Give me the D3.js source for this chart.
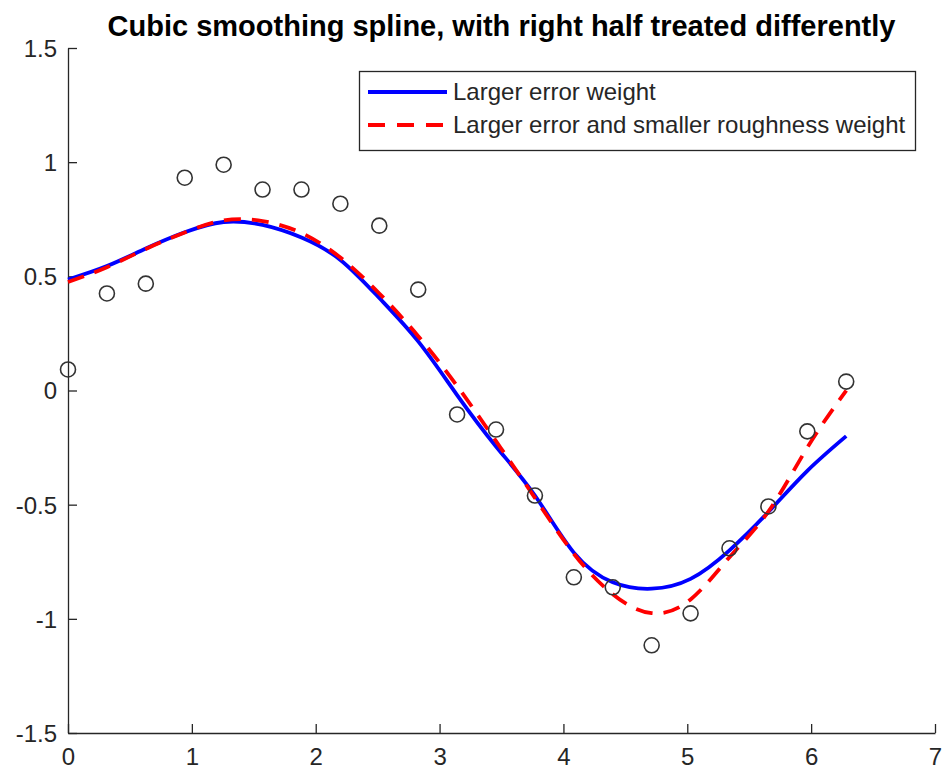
<!DOCTYPE html>
<html>
<head>
<meta charset="utf-8">
<script src="https://cdn.jsdelivr.net/npm/d3@7"></script>
<style>
  html, body { margin: 0; padding: 0; background: #fff; }
  svg { display: block; font-family: "Liberation Sans", Arial, Helvetica, sans-serif; }
</style>
</head>
<body>
<svg id="chart" width="945" height="777"></svg>
<script>
// Sample points: x = 0 .. 2*pi in 20 equal steps
const xData = d3.range(21).map(i => i * Math.PI / 10);
const yData = [0.092, 0.425, 0.468, 0.932, 0.989, 0.880, 0.880, 0.818, 0.722, 0.442,
               -0.105, -0.171, -0.460, -0.818, -0.862, -1.116, -0.976, -0.691, -0.508, -0.179, 0.039];

// Fitted spline values evaluated at the same x positions
const ySplineError = [0.486, 0.545, 0.622, 0.693, 0.738, 0.725, 0.670, 0.572, 0.405, 0.215,
                      -0.020, -0.245, -0.460, -0.710, -0.840, -0.868, -0.825, -0.700, -0.532, -0.352, -0.200];
const ySplineRough = [0.475, 0.540, 0.620, 0.692, 0.745, 0.742, 0.690, 0.582, 0.425, 0.238,
                      0.020, -0.222, -0.470, -0.715, -0.892, -0.975, -0.915, -0.730, -0.530, -0.250, 0.000];

const xTicks = [0, 1, 2, 3, 4, 5, 6, 7];
const yTicks = [-1.5, -1, -0.5, 0, 0.5, 1, 1.5];

const seriesLabels = ["Larger error weight", "Larger error and smaller roughness weight"];
const titleText = "Cubic smoothing spline, with right half treated differently";

const axisColor = "#262626";
const margin = { left: 68, right: 10, top: 48, bottom: 44 };
const W = 945, H = 777;

const svg = d3.select("#chart");
svg.append("rect").attr("width", W).attr("height", H).attr("fill", "#fff");

const x = d3.scaleLinear().domain([0, 7]).range([margin.left, W - margin.right]);
const y = d3.scaleLinear().domain([-1.5, 1.5]).range([H - margin.bottom, margin.top]);

// Axes (ticks point inward)
const xAxis = d3.axisBottom(x).tickValues(xTicks).tickFormat(d3.format("d"))
  .tickSizeInner(-9).tickSizeOuter(0);
const yAxis = d3.axisLeft(y).tickValues(yTicks).tickFormat(d => String(d))
  .tickSizeInner(-9).tickSizeOuter(0);

const gx = svg.append("g").attr("transform", `translate(0,${y(-1.5)})`).call(xAxis);
const gy = svg.append("g").attr("transform", `translate(${x(0)},0)`).call(yAxis);

[gx, gy].forEach(g => {
  g.select(".domain").attr("stroke", axisColor).attr("stroke-width", 1.3);
  g.selectAll(".tick line").attr("stroke", axisColor).attr("stroke-width", 1.3);
  g.selectAll(".tick text").attr("fill", axisColor).attr("font-size", 24)
    .attr("font-family", "Liberation Sans, Arial, sans-serif");
});
gx.selectAll(".tick text").attr("dy", null).attr("y", 32);
gy.selectAll(".tick text").attr("x", -11).attr("dy", "0.35em");

// Spline curves
const line = d3.line().x(d => x(d[0])).y(d => y(d[1])).curve(d3.curveNatural);

svg.append("path")
  .datum(xData.map((xv, i) => [xv, ySplineError[i]]))
  .attr("d", line)
  .attr("fill", "none")
  .attr("stroke", "#0000ff")
  .attr("stroke-width", 3.8);

svg.append("path")
  .datum(xData.map((xv, i) => [xv, ySplineRough[i]]))
  .attr("d", line)
  .attr("fill", "none")
  .attr("stroke", "#ff0000")
  .attr("stroke-width", 3.8)
  .attr("stroke-dasharray", "17,11");

// Data markers
svg.append("g").selectAll("circle")
  .data(xData.map((xv, i) => [xv, yData[i]]))
  .join("circle")
  .attr("cx", d => x(d[0]))
  .attr("cy", d => y(d[1]))
  .attr("r", 7.5)
  .attr("fill", "none")
  .attr("stroke", "#333")
  .attr("stroke-width", 1.6);

// Title
svg.append("text")
  .attr("x", (x(0) + x(7)) / 2)
  .attr("y", 36)
  .attr("text-anchor", "middle")
  .attr("font-size", 29)
  .attr("font-weight", "bold")
  .attr("fill", "#000")
  .text(titleText);

// Legend
const legend = svg.append("g");
legend.append("rect")
  .attr("x", 359.5).attr("y", 71.5).attr("width", 556).attr("height", 79)
  .attr("fill", "#fff").attr("stroke", axisColor).attr("stroke-width", 1.3);

const legendRows = [
  { label: seriesLabels[0], color: "#0000ff", dash: null, cy: 92 },
  { label: seriesLabels[1], color: "#ff0000", dash: "17,12", cy: 125 }
];
legendRows.forEach(r => {
  legend.append("line")
    .attr("x1", 368).attr("x2", 447).attr("y1", r.cy).attr("y2", r.cy)
    .attr("stroke", r.color).attr("stroke-width", 3.8)
    .attr("stroke-dasharray", r.dash);
  legend.append("text")
    .attr("x", 453).attr("y", r.cy).attr("dy", "0.35em")
    .attr("font-size", 24).attr("fill", axisColor)
    .text(r.label);
});
</script>
</body>
</html>
